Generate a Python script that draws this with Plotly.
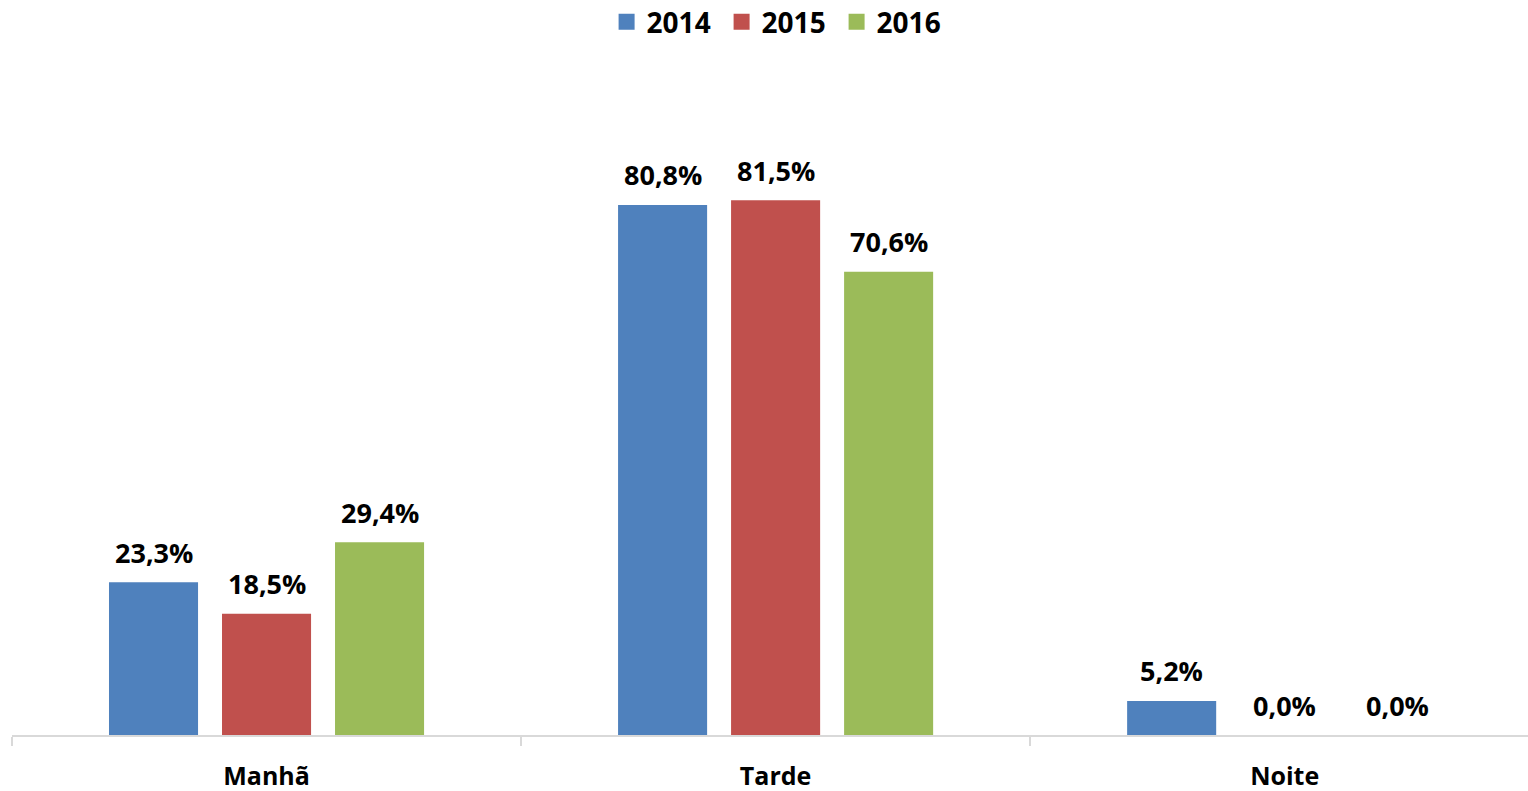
import plotly.graph_objects as go

categories = ["Manhã", "Tarde", "Noite"]
years = ["2014", "2015", "2016"]
values_2014 = [23.3, 80.8, 5.2]
values_2015 = [18.5, 81.5, 0.0]
values_2016 = [29.4, 70.6, 0.0]
colors = ["#4F81BD", "#C0504D", "#9BBB59"]

FONT = "Open Sans"
BARGAP = 0.334
BARGROUPGAP = 0.212

series = [values_2014, values_2015, values_2016]

fig = go.Figure()
for name, vals, col in zip(years, series, colors):
    fig.add_trace(go.Bar(
        x=categories, y=vals, name=name, showlegend=False,
        marker=dict(color=col, line=dict(width=0)),
    ))
    # legend-only entry with a larger square symbol
    fig.add_trace(go.Scatter(
        x=[None], y=[None], name=name, mode="markers",
        marker=dict(symbol="square", size=18, color=col),
    ))

# data labels above each bar
slot = (1 - BARGAP) / len(series)
for k, vals in enumerate(series):
    for i, v in enumerate(vals):
        fig.add_annotation(
            x=i + (k - (len(series) - 1) / 2) * slot, y=v,
            text=f"{v:.1f}%".replace(".", ","), showarrow=False,
            yanchor="middle", xanchor="center", yshift=30,
            font=dict(family=FONT, size=27, color="black", weight="bold"),
        )

fig.update_layout(
    width=1528, height=791,
    margin=dict(l=12, r=0, t=79, b=56, autoexpand=False),
    paper_bgcolor="white", plot_bgcolor="white",
    barmode="group", bargap=BARGAP, bargroupgap=BARGROUPGAP,
    legend=dict(orientation="h", x=0.506, xanchor="center", yref="container",
                y=1 - 22 / 791, yanchor="middle", itemsizing="trace",
                entrywidth=70, entrywidthmode="pixels",
                font=dict(family=FONT, size=28, color="black", weight="bold")),
    xaxis=dict(range=[-0.5, 2.478], showline=True, linecolor="#D9D9D9", linewidth=2,
               ticks="outside", tickson="boundaries", ticklen=9, tickcolor="#D9D9D9", tickwidth=2,
               ticklabelstandoff=18, automargin=False,
               tickfont=dict(family=FONT, size=25, color="black", weight="bold"),
               showgrid=False, zeroline=False),
    yaxis=dict(range=[0, 100], visible=False, showgrid=False, zeroline=False, automargin=False),
)

fig.write_html("out.html", config={"displayModeBar": False},
               post_script="document.body.style.margin='0';")
